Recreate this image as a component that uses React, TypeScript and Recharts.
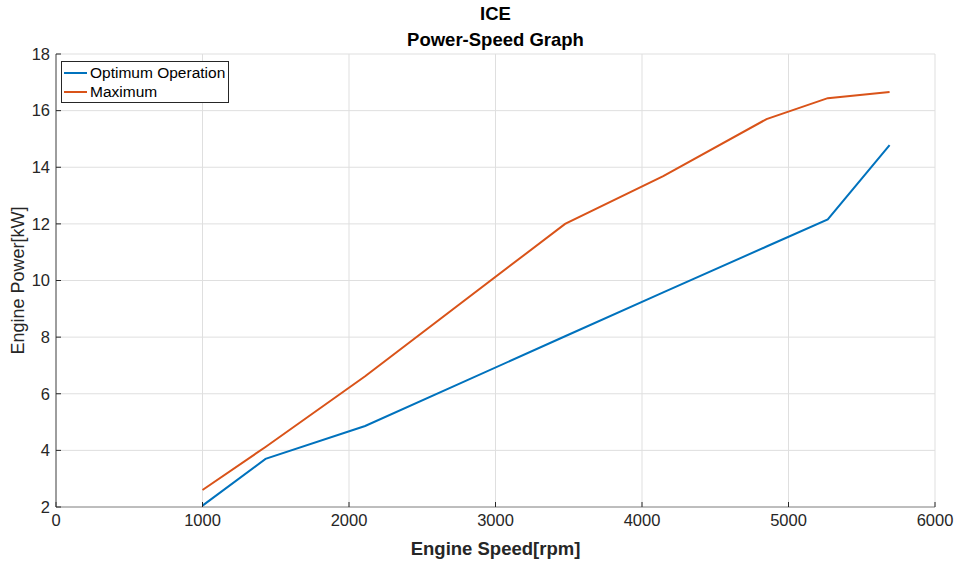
import React from 'react';
import { LineChart, Line, XAxis, YAxis, CartesianGrid } from 'recharts';

// engine speed [rpm] shared by both curves
const speeds = [1000, 1430, 2110, 3475, 4145, 4850, 5268, 5690];
// engine power [kW]
const optimumPower = [2.05, 3.7, 4.86, 8.03, 9.58, 11.2, 12.16, 14.78];
const maximumPower = [2.6, 4.12, 6.62, 12.0, 13.69, 15.7, 16.44, 16.66];

const xTicks = [0, 1000, 2000, 3000, 4000, 5000, 6000];
const yTicks = [2, 4, 6, 8, 10, 12, 14, 16, 18];

const FONT = '"Liberation Sans", Arial, Helvetica, sans-serif';
const INK = '#262626';
const BLUE = '#0072BD';
const ORANGE = '#D95319';

const series = [
  { key: 'optimum', name: 'Optimum Operation', color: BLUE },
  { key: 'maximum', name: 'Maximum', color: ORANGE },
];

const data = speeds.map((s, i) => ({
  speed: s,
  optimum: optimumPower[i],
  maximum: maximumPower[i],
}));

const LegendBox = () => (
  <div
    style={{
      position: 'absolute',
      left: 61,
      top: 61,
      border: `1px solid ${INK}`,
      background: '#fff',
      padding: '1px 3px 1px 2px',
      fontFamily: FONT,
      fontSize: 15.5,
      color: '#000',
      lineHeight: '19px',
      whiteSpace: 'nowrap',
      zIndex: 2,
    }}
  >
    {series.map((it) => (
      <div key={it.key} style={{ display: 'flex', alignItems: 'center' }}>
        <span
          style={{
            display: 'inline-block',
            width: 23,
            height: 2,
            background: it.color,
            marginRight: 3,
          }}
        />
        <span>{it.name}</span>
      </div>
    ))}
  </div>
);

const App: React.FC = () => {
  return (
    <div style={{ position: 'absolute', left: 0, top: 0, width: 958, height: 565, background: '#fff' }}>
      <div
        style={{
          position: 'absolute',
          left: 0,
          width: 991,
          top: 1,
          textAlign: 'center',
          fontFamily: FONT,
          fontWeight: 'bold',
          fontSize: 18.5,
          color: '#000',
          lineHeight: '26px',
          zIndex: 2,
        }}
      >
        <div>ICE</div>
        <div>Power-Speed Graph</div>
      </div>
      <LineChart
        width={958}
        height={565}
        data={data}
        margin={{ top: 54, right: 23, left: 0, bottom: 0 }}
        style={{ fontFamily: FONT }}
      >
        <CartesianGrid stroke="#dfdfdf" strokeWidth={1} />
        <XAxis
          dataKey="speed"
          type="number"
          domain={[0, 6000]}
          ticks={xTicks}
          height={58}
          tickSize={-5}
          tickMargin={12}
          stroke="#8c8c8c"
          tickLine={{ stroke: INK }}
          tick={{ fill: INK, fontSize: 16.5 }}
          label={{
            value: 'Engine Speed[rpm]',
            position: 'insideBottom',
            offset: 10,
            style: { fill: INK, fontSize: 18.5, fontWeight: 'bold' },
          }}
        />
        <YAxis
          type="number"
          domain={[2, 18]}
          ticks={yTicks}
          width={56}
          tickSize={-5}
          tickMargin={11}
          stroke="#4d4d4d"
          tickLine={{ stroke: INK }}
          tick={{ fill: INK, fontSize: 16.5 }}
          label={{
            value: 'Engine Power[kW]',
            angle: -90,
            position: 'insideLeft',
            offset: 18,
            style: { fill: INK, fontSize: 18, textAnchor: 'middle' },
          }}
        />
        {series.map((s) => (
          <Line
            key={s.key}
            type="linear"
            dataKey={s.key}
            name={s.name}
            stroke={s.color}
            strokeWidth={2}
            dot={false}
            isAnimationActive={false}
          />
        ))}
      </LineChart>
      <LegendBox />
    </div>
  );
};

export default App;
